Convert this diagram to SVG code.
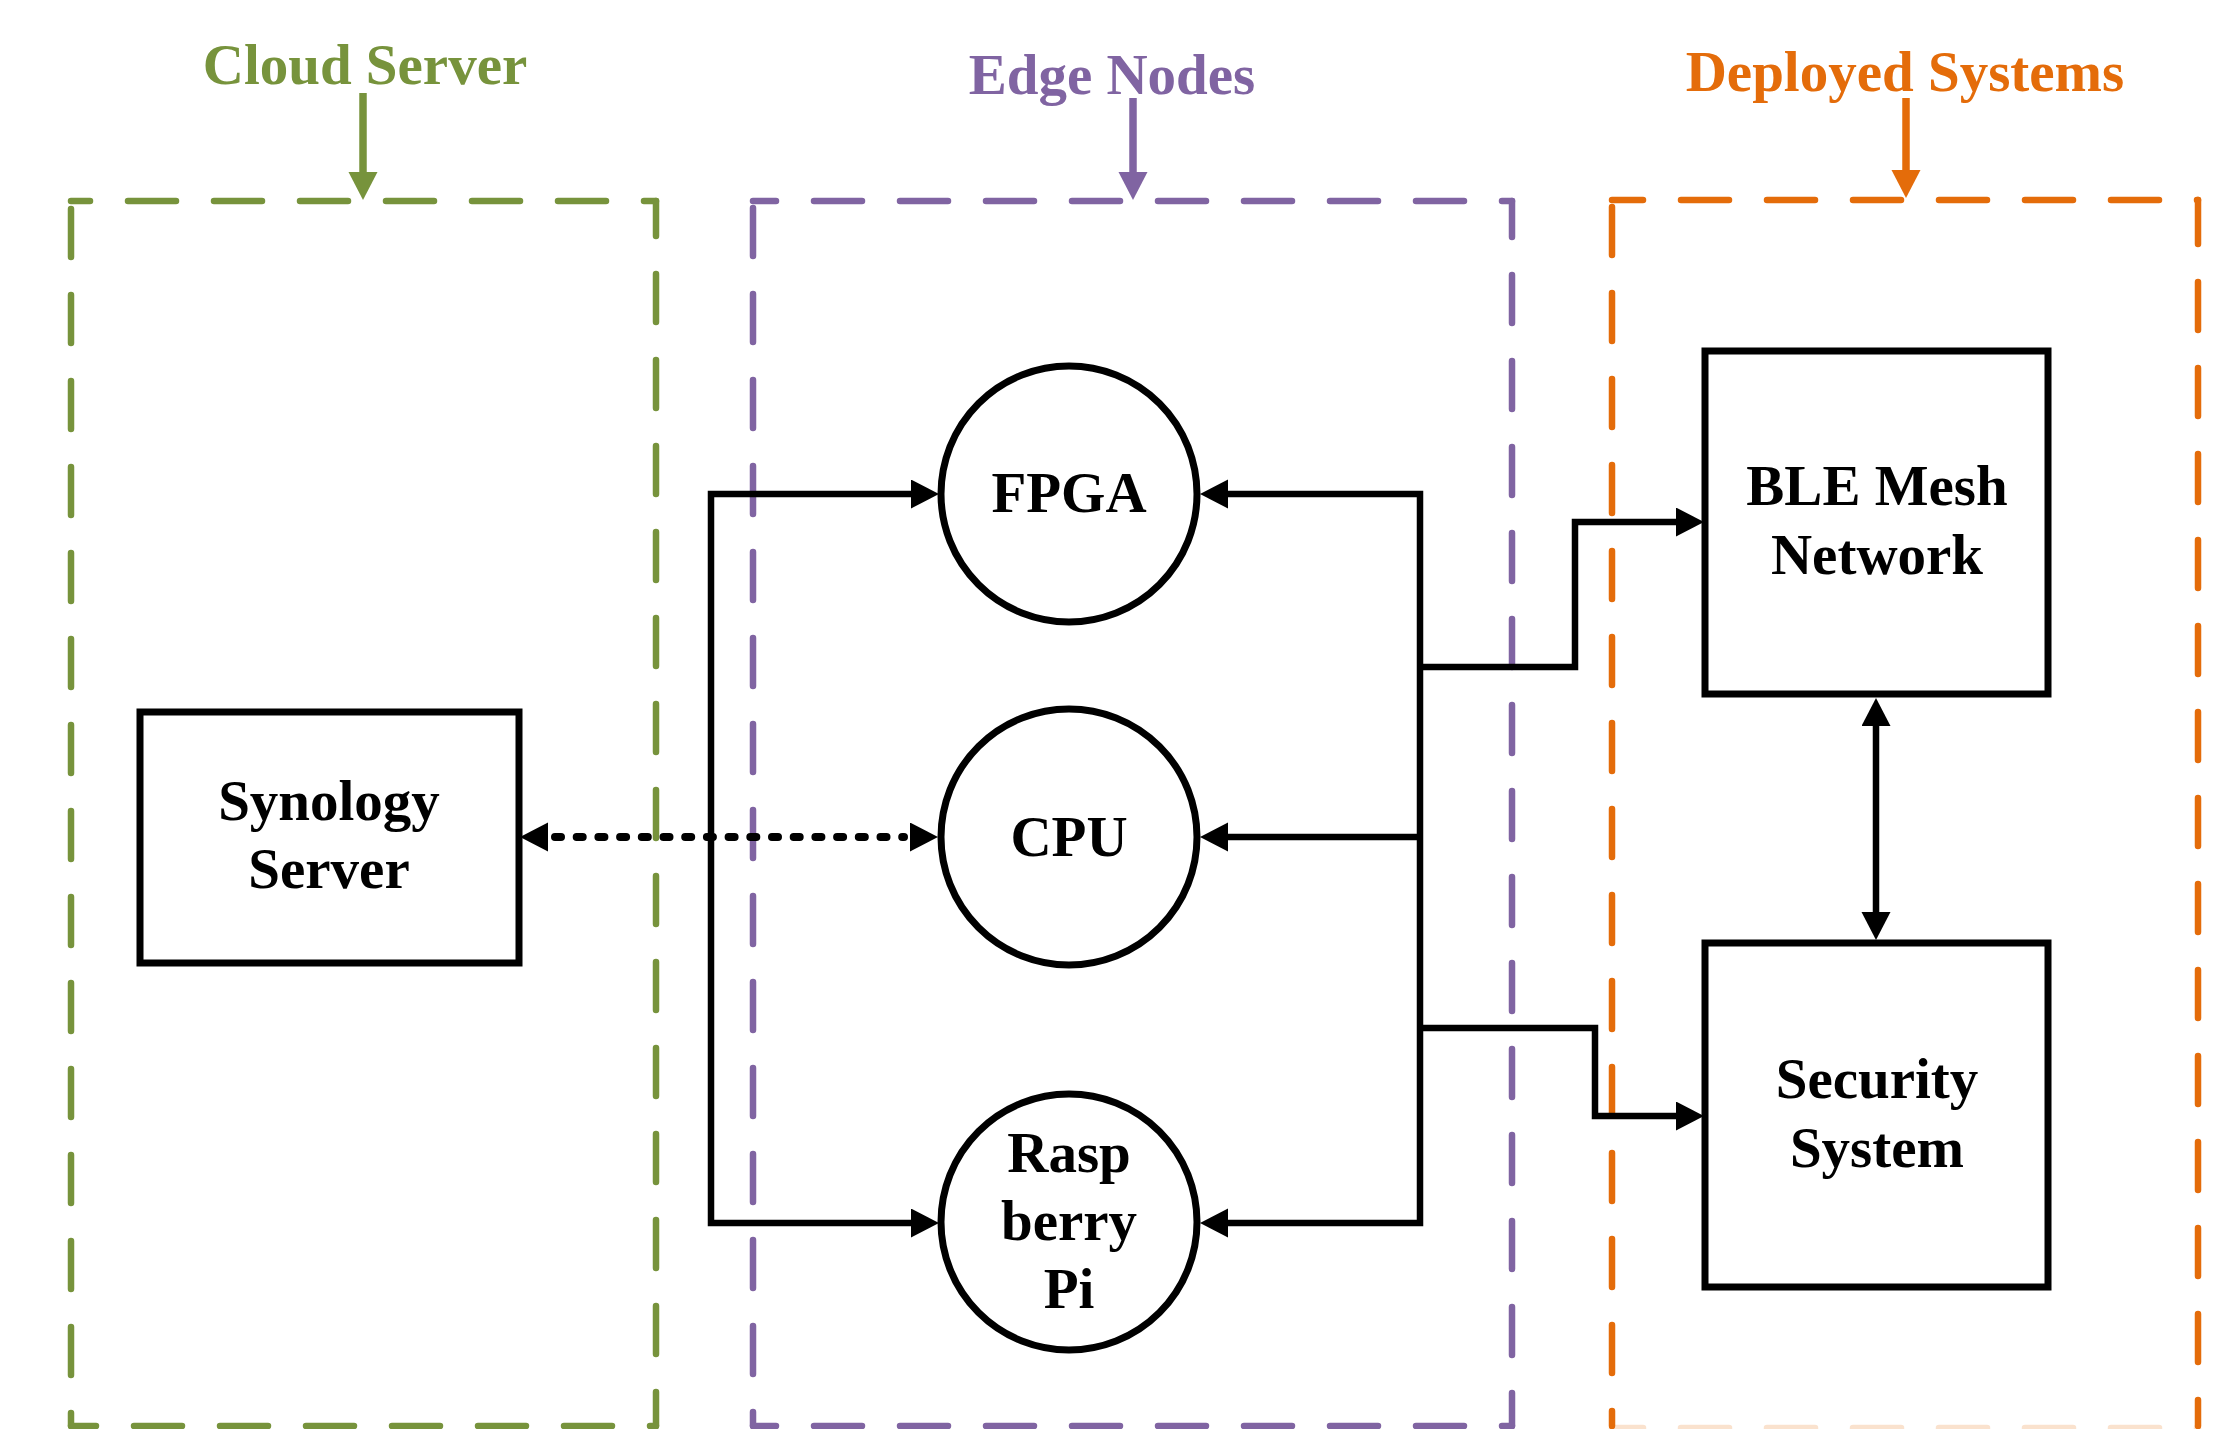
<svg xmlns="http://www.w3.org/2000/svg" width="2220" height="1429" viewBox="0 0 2220 1429">
<style>
  .lbl { font-family: "Liberation Serif", "Times New Roman", serif; font-weight: bold; font-size: 57px; text-anchor: middle; }
  .node { fill: #ffffff; stroke: #000000; stroke-width: 7; }
  .conn { fill: none; stroke: #000000; stroke-width: 6.5; stroke-linejoin: miter; }
  .dash { fill: none; stroke-width: 6.5; stroke-linecap: round; stroke-dasharray: 48 38; }
  .green { stroke: #77933C; }
  .purple { stroke: #8064A2; }
  .orange { stroke: #E46C0A; }
</style>
<defs>
  <marker id="ah" markerUnits="userSpaceOnUse" markerWidth="30" markerHeight="30" refX="0" refY="14.5" orient="auto-start-reverse" viewBox="0 0 30 30">
    <path d="M0,0 L28,14.5 L0,29 z" fill="#000000"/>
  </marker>
  <marker id="ahG" markerUnits="userSpaceOnUse" markerWidth="30" markerHeight="30" refX="0" refY="14.5" orient="auto" viewBox="0 0 30 30">
    <path d="M0,0 L28,14.5 L0,29 z" fill="#77933C"/>
  </marker>
  <marker id="ahP" markerUnits="userSpaceOnUse" markerWidth="30" markerHeight="30" refX="0" refY="14.5" orient="auto" viewBox="0 0 30 30">
    <path d="M0,0 L28,14.5 L0,29 z" fill="#8064A2"/>
  </marker>
  <marker id="ahO" markerUnits="userSpaceOnUse" markerWidth="30" markerHeight="30" refX="0" refY="14.5" orient="auto" viewBox="0 0 30 30">
    <path d="M0,0 L28,14.5 L0,29 z" fill="#E46C0A"/>
  </marker>
</defs>
<rect x="0" y="0" width="2220" height="1429" fill="#ffffff"/>

<g id="group-cloud-server">
  <path class="dash green" d="M71,201 H656" stroke-dashoffset="29"/>
  <path class="dash green" d="M71,201 V1426" stroke-dashoffset="78"/>
  <path class="dash green" d="M656,201 V1426" stroke-dashoffset="13"/>
  <path class="dash green" d="M71,1426 H656" stroke-dashoffset="23"/>
  <text class="lbl" x="365" y="84" fill="#77933C">Cloud Server</text>
  <path d="M363,93 V172" stroke="#77933C" stroke-width="7.5" fill="none" marker-end="url(#ahG)"/>
</g>

<g id="group-edge-nodes">
  <path class="dash purple" d="M753,201 H1512" stroke-dashoffset="25"/>
  <path class="dash purple" d="M753,201 V1426" stroke-dashoffset="79"/>
  <path class="dash purple" d="M1512,201 V1426" stroke-dashoffset="12"/>
  <path class="dash purple" d="M753,1426 H1512" stroke-dashoffset="25"/>
  <text class="lbl" x="1112" y="94" fill="#8064A2">Edge Nodes</text>
  <path d="M1133,98 V172" stroke="#8064A2" stroke-width="7.5" fill="none" marker-end="url(#ahP)"/>
</g>

<g id="group-deployed-systems">
  <path class="dash orange" d="M1612,200 H2198" stroke-dashoffset="17"/>
  <path class="dash orange" d="M1612,200 V1426" stroke-dashoffset="79"/>
  <path class="dash orange" d="M2198,200 V1426" stroke-dashoffset="4"/>
  <path class="dash orange" d="M1612,1428 H2198" stroke-dashoffset="17" opacity="0.2"/>
  <text class="lbl" x="1905" y="91" fill="#E46C0A">Deployed Systems</text>
  <path d="M1906,98 V170" stroke="#E46C0A" stroke-width="7.5" fill="none" marker-end="url(#ahO)"/>
</g>

<g id="connectors">
  <path class="conn" d="M911,494 H711 V1223 H911" marker-start="url(#ah)" marker-end="url(#ah)"/>
  <path class="conn" d="M1228,494 H1420 V1223 H1228" marker-start="url(#ah)" marker-end="url(#ah)"/>
  <path class="conn" d="M1420,837 H1228" marker-end="url(#ah)"/>
  <path class="conn" d="M1420,667 H1575 V522 H1676" marker-end="url(#ah)"/>
  <path class="conn" d="M1420,1028 H1595 V1116 H1676" marker-end="url(#ah)"/>
  <path class="conn" d="M1876,726 V912" marker-start="url(#ah)" marker-end="url(#ah)"/>
  <path d="M555,837 H904" fill="none" stroke="#000000" stroke-width="8" stroke-linecap="round" stroke-dasharray="6 15.7"/>
  <path d="M548,837 H549" fill="none" stroke="none" marker-start="url(#ah)"/>
  <path d="M909,837 H910" fill="none" stroke="none" marker-end="url(#ah)"/>
</g>

<g id="node-synology">
  <rect class="node" x="140" y="712" width="379" height="251"/>
  <text class="lbl" x="329" y="820">Synology</text>
  <text class="lbl" x="329" y="888">Server</text>
</g>

<g id="node-fpga">
  <circle class="node" cx="1069" cy="494" r="128"/>
  <text class="lbl" x="1069" y="512">FPGA</text>
</g>

<g id="node-cpu">
  <circle class="node" cx="1069" cy="837" r="128"/>
  <text class="lbl" x="1069" y="856">CPU</text>
</g>

<g id="node-raspberry-pi">
  <circle class="node" cx="1069" cy="1222" r="128"/>
  <text class="lbl" x="1069" y="1172">Rasp</text>
  <text class="lbl" x="1069" y="1240">berry</text>
  <text class="lbl" x="1069" y="1308">Pi</text>
</g>

<g id="node-ble-mesh">
  <rect class="node" x="1705" y="351" width="343" height="343"/>
  <text class="lbl" x="1877" y="505">BLE Mesh</text>
  <text class="lbl" x="1877" y="574">Network</text>
</g>

<g id="node-security">
  <rect class="node" x="1705" y="943" width="343" height="344"/>
  <text class="lbl" x="1877" y="1098">Security</text>
  <text class="lbl" x="1877" y="1167">System</text>
</g>
</svg>
